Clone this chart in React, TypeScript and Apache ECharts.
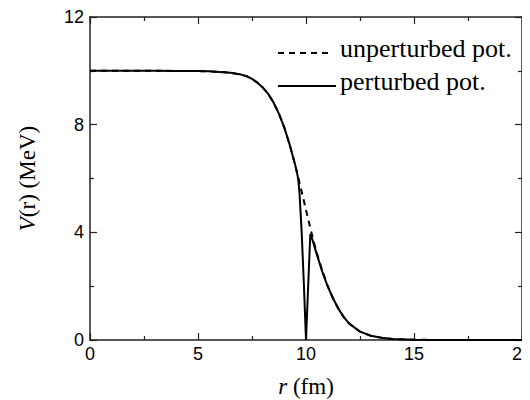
import React, { useEffect, useRef } from "react";
import * as echarts from "echarts";

const rValues = [0, 1, 2, 3, 4, 5, 5.5, 6, 6.5, 7, 7.25, 7.5, 7.75, 8, 8.25, 8.5, 8.75, 9, 9.25, 9.5, 9.6, 9.65, 9.7, 9.8, 9.9, 10, 10.1, 10.2, 10.3, 10.4, 10.5, 10.75, 11, 11.25, 11.5, 11.75, 12, 12.5, 13, 13.5, 14, 15, 16, 17, 18, 19, 20];
const unperturbed = [10, 10, 10, 10, 9.998, 9.99, 9.98, 9.96, 9.93, 9.86, 9.8, 9.7, 9.56, 9.38, 9.14, 8.82, 8.4, 7.88, 7.24, 6.5, 6.18, 6.01, 5.84, 5.51, 5.17, 4.83, 4.49, 4.16, 3.84, 3.53, 3.24, 2.58, 2.02, 1.55, 1.16, 0.85, 0.61, 0.31, 0.16, 0.08, 0.04, 0.01, 0.003, 0.001, 0, 0, 0];
const perturbed = [10, 10, 10, 10, 9.998, 9.99, 9.98, 9.96, 9.93, 9.86, 9.8, 9.7, 9.56, 9.38, 9.14, 8.82, 8.4, 7.88, 7.24, 6.5, 6.15, 5.9, 5.45, 4.0, 2.1, 0, 2.0, 3.94, 3.72, 3.45, 3.18, 2.55, 2.0, 1.55, 1.16, 0.85, 0.61, 0.31, 0.16, 0.08, 0.04, 0.01, 0.003, 0.001, 0, 0, 0];
const xTicks = [0, 5, 10, 15, 20];
const yTicks = [0, 4, 8, 12];
const legendLabels = ["unperturbed pot.", "perturbed pot."];

const SERIF = "Liberation Serif";
const SANS = "Liberation Sans";
const AXIS_COLOR = "#222";

function axisX(position: string, withLabels: boolean) {
  return {
    type: "value",
    position: position,
    min: xTicks[0],
    max: xTicks[xTicks.length - 1],
    interval: 5,
    axisLine: { show: true, onZero: false, lineStyle: { color: AXIS_COLOR, width: 1.5 } },
    axisTick: { show: true, inside: true, length: 7, lineStyle: { color: AXIS_COLOR, width: 1.2 } },
    minorTick: { show: true, splitNumber: 2, length: 4, lineStyle: { color: AXIS_COLOR, width: 1.2 } },
    axisLabel: { show: withLabels, color: "#000", fontFamily: SANS, fontSize: 18, margin: 5 },
    splitLine: { show: false },
  };
}

function axisY(position: string, withLabels: boolean) {
  return {
    type: "value",
    position: position,
    min: yTicks[0],
    max: yTicks[yTicks.length - 1],
    interval: 4,
    axisLine: { show: true, onZero: false, lineStyle: { color: AXIS_COLOR, width: 1.5 } },
    axisTick: { show: true, inside: true, length: 7, lineStyle: { color: AXIS_COLOR, width: 1.2 } },
    minorTick: { show: true, splitNumber: 2, length: 4, lineStyle: { color: AXIS_COLOR, width: 1.2 } },
    axisLabel: { show: withLabels, color: "#000", fontFamily: SANS, fontSize: 18, margin: 6 },
    splitLine: { show: false },
  };
}

export default function App() {
  const ref = useRef<HTMLDivElement>(null);
  useEffect(() => {
    if (!ref.current) return;
    const chart = echarts.init(ref.current, null, { renderer: "svg" });
    const bottomX: any = axisX("bottom", true);
    bottomX.name = "{i|r} (fm)";
    bottomX.nameLocation = "middle";
    bottomX.nameGap = 35;
    bottomX.nameTextStyle = {
      color: "#000",
      fontFamily: SERIF,
      fontSize: 23,
      rich: { i: { fontStyle: "italic", fontFamily: SERIF, fontSize: 23, color: "#000" } },
    };
    const leftY: any = axisY("left", true);
    leftY.name = "{i|V}(r) (MeV)";
    leftY.nameLocation = "middle";
    leftY.nameGap = 51;
    leftY.nameRotate = 90;
    leftY.nameTextStyle = {
      color: "#000",
      fontFamily: SERIF,
      fontSize: 23,
      rich: { i: { fontStyle: "italic", fontFamily: SERIF, fontSize: 23, color: "#000" } },
    };
    chart.setOption({
      animation: false,
      grid: { left: 74, right: 16, top: 7, bottom: 68 },
      xAxis: [bottomX, axisX("top", false)],
      yAxis: [leftY, axisY("right", false)],
      series: [
        {
          name: legendLabels[0],
          type: "line",
          xAxisIndex: 0,
          yAxisIndex: 0,
          data: rValues.map((r, i) => [r, unperturbed[i]]),
          showSymbol: false,
          lineStyle: { color: "#000", width: 2, type: [6, 5] },
          z: 2,
        },
        {
          name: legendLabels[1],
          type: "line",
          xAxisIndex: 0,
          yAxisIndex: 0,
          data: rValues.map((r, i) => [r, perturbed[i]]),
          showSymbol: false,
          lineStyle: { color: "#000", width: 2 },
          z: 3,
        },
      ],
      graphic: [
        { type: "line", shape: { x1: 270, y1: 45, x2: 322, y2: 45 }, style: { stroke: "#000", lineWidth: 1.8, lineDash: [6, 5] } },
        { type: "text", x: 332, y: 27, style: { text: legendLabels[0], fontFamily: SERIF, fontSize: 26, fill: "#000" } },
        { type: "line", shape: { x1: 270, y1: 78, x2: 328, y2: 78 }, style: { stroke: "#000", lineWidth: 1.8 } },
        { type: "text", x: 332, y: 60, style: { text: legendLabels[1], fontFamily: SERIF, fontSize: 26, fill: "#000" } },
      ],
    });
    return () => chart.dispose();
  }, []);
  return <div ref={ref} style={{ width: 530, height: 400 }} />;
}
